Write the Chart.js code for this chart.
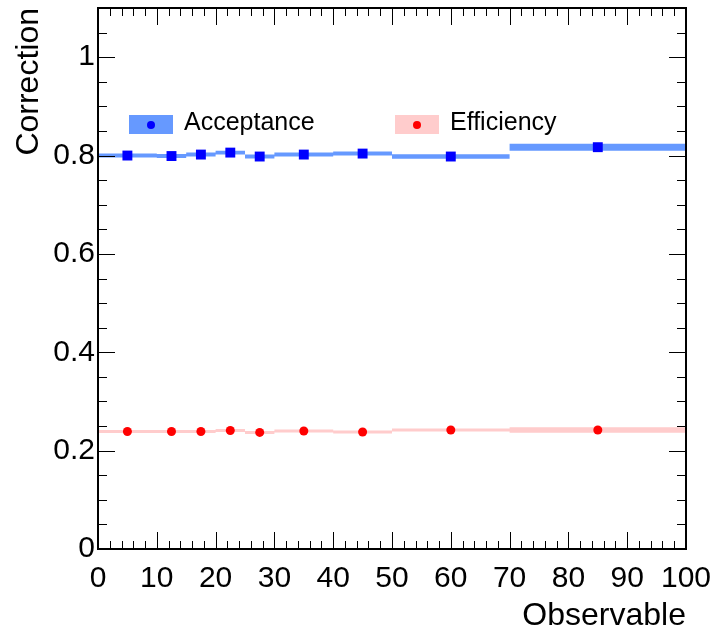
<!DOCTYPE html>
<html>
<head>
<meta charset="utf-8">
<script src="https://cdn.jsdelivr.net/npm/chart.js@4.4.1/dist/chart.umd.min.js"></script>
<style>
html, body { margin: 0; padding: 0; background: #fff; }
</style>
</head>
<body>
<canvas id="corrChart" width="715" height="635"></canvas>
<script>
// binning of the observable and the two corrections per bin
const binEdges = [0, 10, 15, 20, 25, 30, 40, 50, 70, 100];
const accValues = [0.800, 0.799, 0.802, 0.806, 0.798, 0.802, 0.804, 0.798, 0.817];
const accErrors = [0.004, 0.004, 0.004, 0.004, 0.004, 0.004, 0.004, 0.0045, 0.007];
const effValues = [0.239, 0.239, 0.239, 0.241, 0.237, 0.240, 0.238, 0.242, 0.242];
const effErrors = [0.003, 0.003, 0.003, 0.003, 0.003, 0.003, 0.003, 0.003, 0.0055];
const seriesNames = ['Acceptance', 'Efficiency'];
const xTickValues = [0, 10, 20, 30, 40, 50, 60, 70, 80, 90, 100];
const yTickValues = [0, 0.2, 0.4, 0.6, 0.8, 1];

const accBand = 'rgb(102,153,255)';
const effBand = 'rgb(255,204,204)';

Chart.defaults.font.family = '"Liberation Sans", Arial, sans-serif';
Chart.defaults.color = '#000';

const binCenters = binEdges.slice(0, -1).map((e, i) => (e + binEdges[i + 1]) / 2);

// stepped edge points: each value holds from its left edge to the next edge
function stepPoints(values, errors, sign) {
    const pts = values.map((v, i) => ({ x: binEdges[i], y: v + sign * errors[i] }));
    const last = values.length - 1;
    pts.push({ x: binEdges[binEdges.length - 1], y: values[last] + sign * errors[last] });
    return pts;
}

function bandPair(values, errors, color) {
    const common = { type: 'line', stepped: true, borderWidth: 0, pointRadius: 0, backgroundColor: color, borderColor: color };
    return [
        Object.assign({ data: stepPoints(values, errors, -1), fill: false }, common),
        Object.assign({ data: stepPoints(values, errors, +1), fill: '-1' }, common)
    ];
}

// fixed axis box, no extra room for overhanging labels
function fixBox(s, size) {
    if (s.isHorizontal()) s.height = size; else s.width = size;
    s.paddingLeft = s.paddingRight = s.paddingTop = s.paddingBottom = 0;
}

const frameTicks = {
    id: 'frameTicks',
    afterDatasetsDraw(chart) {
        const { ctx, chartArea: a, scales: { x, y } } = chart;
        ctx.save();
        ctx.strokeStyle = '#000';
        ctx.lineWidth = 1;
        ctx.beginPath();
        for (let i = 0; i <= 50; i++) {
            const px = Math.round(x.getPixelForValue(i * 2)) + 0.5;
            const len = i % 5 === 0 ? 17 : 8;
            ctx.moveTo(px, a.bottom); ctx.lineTo(px, a.bottom - len);
            ctx.moveTo(px, a.top); ctx.lineTo(px, a.top + len);
        }
        for (let i = 0; i <= 22; i++) {
            const py = Math.round(y.getPixelForValue(i * 0.05)) + 0.5;
            const len = i % 4 === 0 ? 17 : 9;
            ctx.moveTo(a.left, py); ctx.lineTo(a.left + len, py);
            ctx.moveTo(a.right, py); ctx.lineTo(a.right - len, py);
        }
        ctx.stroke();
        ctx.lineWidth = 2;
        ctx.strokeRect(a.left, a.top, a.right - a.left, a.bottom - a.top);
        ctx.restore();
    }
};

const insideLegend = {
    id: 'insideLegend',
    afterDatasetsDraw(chart, args, opts) {
        const { ctx, chartArea: a } = chart;
        ctx.save();
        ctx.font = '25px "Liberation Sans", Arial, sans-serif';
        ctx.textBaseline = 'alphabetic';
        opts.items.forEach(it => {
            const bx = a.left + it.dx, by = a.top + opts.dy;
            ctx.fillStyle = it.band;
            ctx.fillRect(bx, by, 44, 19);
            ctx.fillStyle = it.dot;
            ctx.beginPath();
            ctx.arc(bx + 22, by + 10, 4, 0, Math.PI * 2);
            ctx.fill();
            ctx.fillStyle = '#000';
            ctx.fillText(it.text, bx + 55, by + 15);
        });
        ctx.restore();
    }
};

new Chart(document.getElementById('corrChart').getContext('2d'), {
    type: 'scatter',
    data: {
        datasets: [
            {
                label: seriesNames[0],
                data: binCenters.map((c, i) => ({ x: c, y: accValues[i] })),
                showLine: false,
                pointStyle: 'rect',
                pointRadius: 7,
                pointBorderWidth: 0,
                backgroundColor: 'rgb(0,0,255)'
            },
            {
                label: seriesNames[1],
                data: binCenters.map((c, i) => ({ x: c, y: effValues[i] })),
                showLine: false,
                pointStyle: 'circle',
                pointRadius: 4.5,
                pointBorderWidth: 0,
                backgroundColor: 'rgb(255,0,0)'
            },
            ...bandPair(accValues, accErrors, accBand),
            ...bandPair(effValues, effErrors, effBand)
        ]
    },
    options: {
        responsive: false,
        animation: false,
        devicePixelRatio: 1,
        layout: { padding: { top: 8, right: 29, left: 0, bottom: 0 } },
        plugins: {
            legend: { display: false },
            tooltip: { enabled: false },
            insideLegend: {
                dy: 107,
                items: [
                    { dx: 31, band: accBand, dot: 'rgb(0,0,255)', text: seriesNames[0] },
                    { dx: 297, band: effBand, dot: 'rgb(255,0,0)', text: seriesNames[1] }
                ]
            }
        },
        scales: {
            x: {
                type: 'linear',
                min: 0,
                max: 100,
                afterFit: s => fixBox(s, 86),
                afterBuildTicks: s => { s.ticks = xTickValues.map(v => ({ value: v })); },
                grid: { display: false, drawTicks: false },
                border: { display: false },
                ticks: { autoSkip: false, maxRotation: 0, padding: 12, font: { size: 30 } },
                title: { display: true, text: 'Observable', align: 'end', font: { size: 32 }, padding: { top: 0, bottom: 0 } }
            },
            y: {
                type: 'linear',
                min: 0,
                max: 1.1,
                afterFit: s => fixBox(s, 98),
                afterBuildTicks: s => { s.ticks = yTickValues.map(v => ({ value: v })); },
                grid: { display: false, drawTicks: false },
                border: { display: false },
                ticks: { padding: 3, font: { size: 30 }, callback: v => String(+v.toFixed(1)) },
                title: { display: true, text: 'Correction', align: 'end', font: { size: 32 }, padding: { top: 10, bottom: 0 } }
            }
        }
    },
    plugins: [frameTicks, insideLegend]
});
</script>
</body>
</html>
